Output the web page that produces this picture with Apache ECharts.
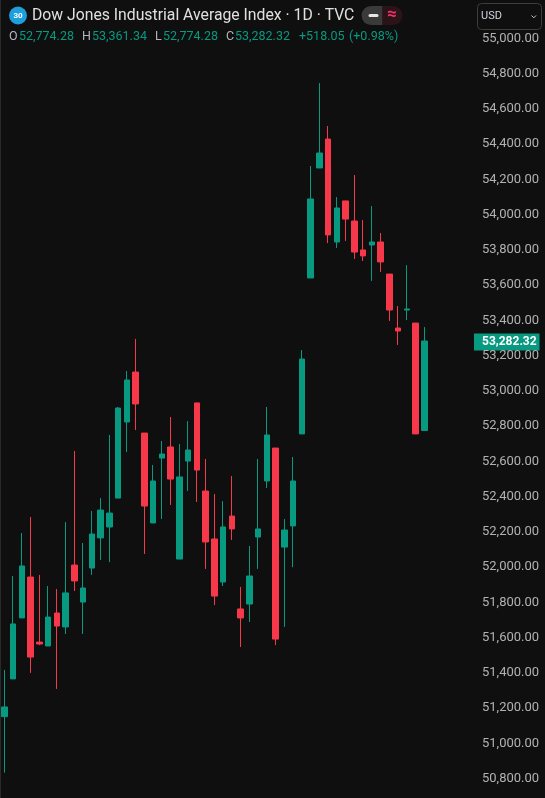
<!DOCTYPE html>
<html>
<head>
<meta charset="utf-8">
<style>html,body{margin:0;padding:0;background:#0f0f0f}#c{width:545px;height:798px}</style>
<script src="https://cdn.jsdelivr.net/npm/echarts@6/dist/echarts.min.js"></script>
</head>
<body>
<div id="c"></div>
<script>
const opens  = [51151,51365,51711,51943,51574,51552,51739,51660,52011,51801,51994,52165,52227,52391,52823,53106,52760,52250,52618,52681,52045,52601,52931,52431,52159,51915,52289,51762,51790,52170,52488,52675,52113,52233,52755,53640,54264,54428,53844,54077,53963,53799,53827,53844,53662,53356,53458,53384,52774.28];
const closes = [51206,51677,52006,51489,51563,51716,51665,51853,51921,51881,52187,52323,52306,52902,53061,52925,52346,52488,52641,52499,52511,52664,52550,52142,51835,52227,52216,51711,51949,52216,52749,51591,52210,52488,53180,54088,54349,53884,54037,53974,53787,53765,53844,53731,53458,53339,53464,52755,53282.32];
const lows   = [50833,51365,51711,51399,51557,51552,51308,51620,51864,51620,51955,52040,52028,52391,52652,52777,52074,52250,52272,52352,52045,52431,52369,51989,51784,51892,52153,51546,51688,51989,52448,51557,51660,51999,52755,53640,54264,53838,53810,53850,53748,53736,53623,53674,53396,53260,53401,52755,52774.28];
const highs  = [51416,51949,52193,52284,51955,51892,51875,52255,52658,52136,52318,52391,52749,52908,53112,53294,52760,52579,52715,52851,52698,52828,52931,52613,52414,52374,52516,51887,52119,52613,52908,52675,52272,52624,53231,54275,54746,54502,54099,54077,54224,53969,54048,53895,53662,53481,53713,53384,53361.34];
const emptySlots = 5;
const categories = opens.concat(new Array(emptySlots).fill(0)).map((_, i) => String(i + 1));
const candles = opens.map((o, i) => [o, closes[i], lows[i], highs[i]]);
const priceMin = 50800, priceMax = 55000, priceStep = 200;
const titleText = "Dow Jones Industrial Average Index · 1D · TVC";
const quoteParts = [["O",9,"#b2b5be"],["52,774.28",19,"#089981"],["H",82,"#b2b5be"],["53,361.34",92,"#089981"],["L",155,"#b2b5be"],["52,774.28",163,"#089981"],["C",226,"#b2b5be"],["53,282.32",235,"#089981"],["+518.05",299,"#089981"],["(+0.98%)",349,"#089981"]];
const UP = "#089981", DOWN = "#f7374a", BG = "#0f0f0f";
const FONT = "Roboto, sans-serif";
const fmt = v => v.toLocaleString("en-US", {minimumFractionDigits: 2, maximumFractionDigits: 2});

const chart = echarts.init(document.getElementById("c"));
chart.setOption({
  animation: false,
  backgroundColor: BG,
  grid: {left: 0, top: 38.25, width: 472.5, height: 740.25, containLabel: false},
  xAxis: {type: "category", data: categories, show: false, boundaryGap: true},
  yAxis: {
    type: "value", position: "right", min: priceMin, max: priceMax, interval: priceStep,
    axisLine: {show: false}, axisTick: {show: false}, splitLine: {show: false},
    axisLabel: {color: "#b2b2b2", fontFamily: FONT, fontSize: 13, margin: 9.5, formatter: fmt, showMinLabel: true, showMaxLabel: true, padding: [1.5, 0, 0, 0]}
  },
  series: [{
    type: "candlestick", data: candles, barWidth: 6, clip: false,
    itemStyle: {color: UP, color0: DOWN, borderColor: UP, borderColor0: DOWN, borderWidth: 1}
  }]
});

const lastY = chart.convertToPixel({yAxisIndex: 0}, closes[closes.length - 1]);
const g = [
  {type: "rect", shape: {x: 0, y: 0, width: 1, height: 798}, style: {fill: "#2a2a2a"}},
  {type: "circle", shape: {cx: 18, cy: 15.5, r: 9}, style: {fill: "#1e9fdc"}},
  {type: "text", x: 18, y: 15.5, style: {text: "30", fill: "#fff", font: "bold 8px " + FONT, align: "center", verticalAlign: "middle"}},
  {type: "text", x: 32, y: 16, style: {text: titleText, fill: "#e0e0e0", font: "15.75px " + FONT, align: "left", verticalAlign: "middle"}},
  {type: "rect", shape: {x: 361.5, y: 6, width: 21, height: 19, r: [9.5,0,0,9.5]}, style: {fill: "#3a3a3a"}},
  {type: "rect", shape: {x: 382.5, y: 6, width: 20, height: 19, r: [0,9.5,9.5,0]}, style: {fill: "#2a1418"}},
  {type: "rect", shape: {x: 368.5, y: 14, width: 10, height: 3, r: 1.5}, style: {fill: "#e6e6e6"}},
  {type: "text", x: 392, y: 15, style: {text: "≈", fill: "#f5306e", font: "bold 17px " + FONT, align: "center", verticalAlign: "middle"}},
  {type: "rect", shape: {x: 477.5, y: 3.5, width: 64, height: 26, r: 4}, style: {fill: BG, stroke: "#3d3d3d", lineWidth: 1}},
  {type: "text", x: 481, y: 16.5, style: {text: "USD", fill: "#d1d4dc", font: "11px " + FONT, align: "left", verticalAlign: "middle"}},
  {type: "polyline", shape: {points: [[531.5,15.5],[533.8,17.8],[536,15.5]]}, style: {stroke: "#c8c8c8", lineWidth: 1, fill: "none"}},
  {type: "rect", shape: {x: 474, y: lastY - 7.5, width: 65.5, height: 17}, style: {fill: UP}},
  {type: "text", x: 482, y: lastY + 1, style: {text: fmt(closes[closes.length - 1]), fill: "#fff", font: "bold 12px " + FONT, align: "left", verticalAlign: "middle"}}
];
quoteParts.forEach(p => g.push({type: "text", x: p[1], y: 37, style: {text: p[0], fill: p[2], font: "12.5px " + FONT, align: "left", verticalAlign: "middle"}}));
chart.setOption({graphic: {elements: g}});
</script>
</body>
</html>
